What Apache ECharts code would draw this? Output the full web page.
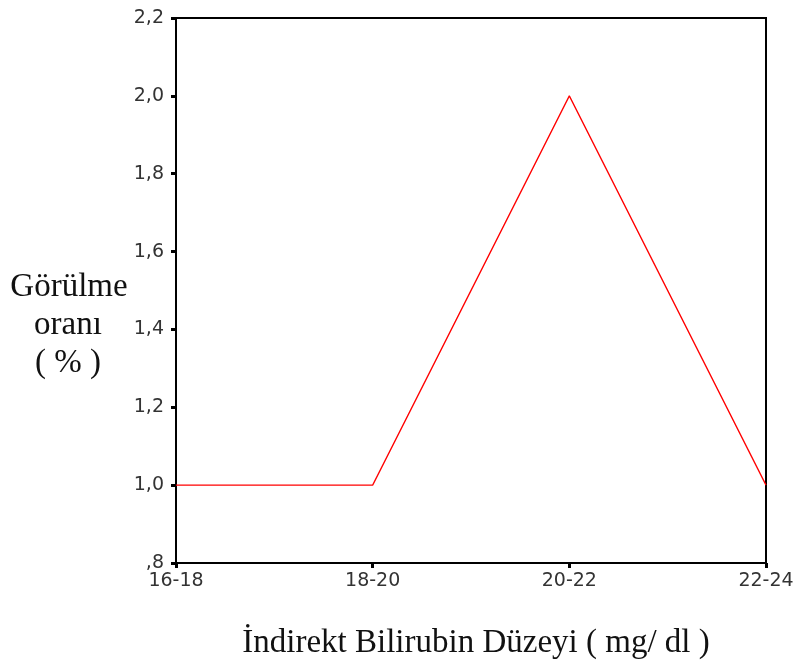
<!DOCTYPE html>
<html><head><meta charset="utf-8">
<script src="https://cdn.jsdelivr.net/npm/echarts@6/dist/echarts.min.js"></script>
<style>html,body{margin:0;padding:0;background:#fff}#c{width:794px;height:669px}</style>
</head><body><div id="c"></div>
<script>
const categories = ['16-18', '18-20', '20-22', '22-24'];
const rates = [1.0, 1.0, 2.0, 1.0];
const yTicks = [0.8, 1.0, 1.2, 1.4, 1.6, 1.8, 2.0, 2.2];
const yTitleLines = ['Görülme', 'oranı', '( % )'];
const xTitle = 'İndirekt Bilirubin Düzeyi ( mg/ dl )';

const chart = echarts.init(document.getElementById('c'), null, {renderer: 'canvas'});
function fmt(v) {
  let s = v.toFixed(1).replace('.', ',');
  if (s.startsWith('0')) s = s.slice(1);
  return s;
}
const serif = '33px "Liberation Serif"';
chart.setOption({
  animation: false,
  backgroundColor: '#fff',
  grid: {left: 176, top: 18, right: 28, bottom: 106, show: true, borderColor: '#000', borderWidth: 2, containLabel: false, outerBoundsMode: 'none'},
  xAxis: {
    type: 'category', data: categories, boundaryGap: false,
    axisLine: {show: true, lineStyle: {color: '#000', width: 2}},
    axisTick: {show: true, length: 5, lineStyle: {color: '#000', width: 3}, alignWithLabel: true},
    axisLabel: {color: '#333', fontFamily: 'DejaVu Sans', fontSize: 19, margin: 9},
    splitLine: {show: false}
  },
  yAxis: {
    type: 'value', min: yTicks[0], max: yTicks[yTicks.length - 1], interval: 0.2,
    axisLine: {show: true, lineStyle: {color: '#000', width: 2}},
    axisTick: {show: true, length: 5, lineStyle: {color: '#000', width: 3}},
    axisLabel: {color: '#333', fontFamily: 'DejaVu Sans', fontSize: 19, margin: 12, formatter: fmt},
    splitLine: {show: false}
  },
  series: [{
    type: 'line', data: rates, symbol: 'none',
    lineStyle: {color: '#ff0000', width: 1.3}
  }],
  graphic: [
    {type: 'text', x: 69, y: 287, style: {text: yTitleLines[0], font: serif, fill: '#111', align: 'center', verticalAlign: 'middle'}},
    {type: 'text', x: 68, y: 325, style: {text: yTitleLines[1], font: serif, fill: '#111', align: 'center', verticalAlign: 'middle'}},
    {type: 'text', x: 68, y: 363, style: {text: yTitleLines[2], font: serif, fill: '#111', align: 'center', verticalAlign: 'middle'}},
    {type: 'text', x: 476, y: 643, style: {text: xTitle, font: serif, fill: '#111', align: 'center', verticalAlign: 'middle'}}
  ]
});
</script></body></html>
